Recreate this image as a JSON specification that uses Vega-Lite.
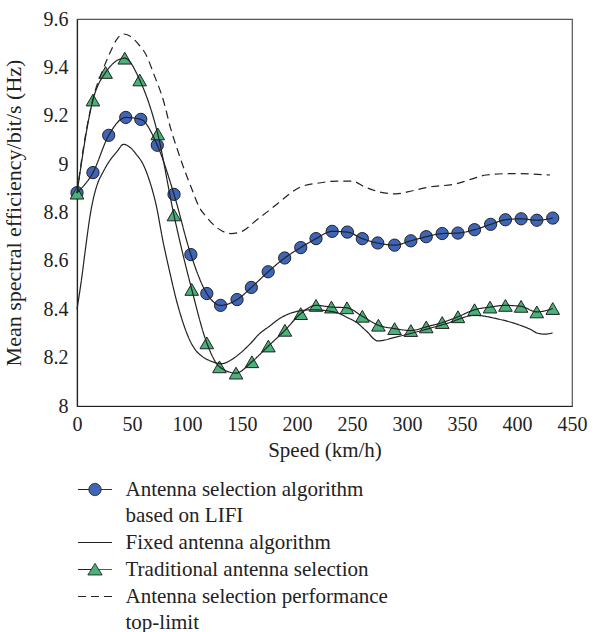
{
  "$schema": "https://vega.github.io/schema/vega-lite/v6.json",
  "width": 495,
  "height": 387,
  "autosize": {"type": "none"},
  "padding": {"left": 77, "top": 19, "right": 26, "bottom": 226},
  "background": "white",
  "config": {
    "font": "Liberation Serif",
    "view": {"stroke": "#555", "strokeWidth": 1.2},
    "axis": {"labelFont": "Liberation Serif", "titleFont": "Liberation Serif", "labelFontSize": 20, "titleFontSize": 21, "titleFontWeight": "normal", "labelColor": "#222", "titleColor": "#222", "ticks": false, "grid": false, "domainColor": "#222", "domainWidth": 1.2}
  },
  "data": {"values": [
    {"s": "Antenna selection algorithm based on LIFI", "x": 0, "y": 8.882},
    {"s": "Antenna selection algorithm based on LIFI", "x": 14.5, "y": 8.965},
    {"s": "Antenna selection algorithm based on LIFI", "x": 28.8, "y": 9.119},
    {"s": "Antenna selection algorithm based on LIFI", "x": 44.3, "y": 9.193},
    {"s": "Antenna selection algorithm based on LIFI", "x": 58, "y": 9.185},
    {"s": "Antenna selection algorithm based on LIFI", "x": 73, "y": 9.078},
    {"s": "Antenna selection algorithm based on LIFI", "x": 88.2, "y": 8.875},
    {"s": "Antenna selection algorithm based on LIFI", "x": 103.5, "y": 8.626},
    {"s": "Antenna selection algorithm based on LIFI", "x": 118, "y": 8.465},
    {"s": "Antenna selection algorithm based on LIFI", "x": 130.5, "y": 8.416},
    {"s": "Antenna selection algorithm based on LIFI", "x": 145.5, "y": 8.44},
    {"s": "Antenna selection algorithm based on LIFI", "x": 158.5, "y": 8.49},
    {"s": "Antenna selection algorithm based on LIFI", "x": 173.8, "y": 8.555},
    {"s": "Antenna selection algorithm based on LIFI", "x": 188.8, "y": 8.612},
    {"s": "Antenna selection algorithm based on LIFI", "x": 203.4, "y": 8.655},
    {"s": "Antenna selection algorithm based on LIFI", "x": 217.3, "y": 8.692},
    {"s": "Antenna selection algorithm based on LIFI", "x": 232, "y": 8.722},
    {"s": "Antenna selection algorithm based on LIFI", "x": 245.8, "y": 8.719},
    {"s": "Antenna selection algorithm based on LIFI", "x": 259.4, "y": 8.692},
    {"s": "Antenna selection algorithm based on LIFI", "x": 273.4, "y": 8.674},
    {"s": "Antenna selection algorithm based on LIFI", "x": 288.7, "y": 8.665},
    {"s": "Antenna selection algorithm based on LIFI", "x": 303.5, "y": 8.683},
    {"s": "Antenna selection algorithm based on LIFI", "x": 317.5, "y": 8.7},
    {"s": "Antenna selection algorithm based on LIFI", "x": 332, "y": 8.713},
    {"s": "Antenna selection algorithm based on LIFI", "x": 346.3, "y": 8.715},
    {"s": "Antenna selection algorithm based on LIFI", "x": 361.4, "y": 8.729},
    {"s": "Antenna selection algorithm based on LIFI", "x": 376, "y": 8.751},
    {"s": "Antenna selection algorithm based on LIFI", "x": 389.5, "y": 8.77},
    {"s": "Antenna selection algorithm based on LIFI", "x": 403.8, "y": 8.774},
    {"s": "Antenna selection algorithm based on LIFI", "x": 418, "y": 8.768},
    {"s": "Antenna selection algorithm based on LIFI", "x": 432.5, "y": 8.777},
    {"s": "Traditional antenna selection", "x": 0, "y": 8.88},
    {"s": "Traditional antenna selection", "x": 14.5, "y": 9.265},
    {"s": "Traditional antenna selection", "x": 26, "y": 9.379},
    {"s": "Traditional antenna selection", "x": 43.4, "y": 9.438},
    {"s": "Traditional antenna selection", "x": 57, "y": 9.348},
    {"s": "Traditional antenna selection", "x": 73.4, "y": 9.125},
    {"s": "Traditional antenna selection", "x": 88.1, "y": 8.79},
    {"s": "Traditional antenna selection", "x": 104.3, "y": 8.482},
    {"s": "Traditional antenna selection", "x": 118, "y": 8.261},
    {"s": "Traditional antenna selection", "x": 129.5, "y": 8.162},
    {"s": "Traditional antenna selection", "x": 144.6, "y": 8.136},
    {"s": "Traditional antenna selection", "x": 159, "y": 8.183},
    {"s": "Traditional antenna selection", "x": 174, "y": 8.248},
    {"s": "Traditional antenna selection", "x": 189, "y": 8.313},
    {"s": "Traditional antenna selection", "x": 203.4, "y": 8.382},
    {"s": "Traditional antenna selection", "x": 217.3, "y": 8.416},
    {"s": "Traditional antenna selection", "x": 231.3, "y": 8.409},
    {"s": "Traditional antenna selection", "x": 245.4, "y": 8.406},
    {"s": "Traditional antenna selection", "x": 259.4, "y": 8.371},
    {"s": "Traditional antenna selection", "x": 274, "y": 8.334},
    {"s": "Traditional antenna selection", "x": 288.7, "y": 8.32},
    {"s": "Traditional antenna selection", "x": 303.5, "y": 8.312},
    {"s": "Traditional antenna selection", "x": 317.5, "y": 8.327},
    {"s": "Traditional antenna selection", "x": 332, "y": 8.345},
    {"s": "Traditional antenna selection", "x": 346.3, "y": 8.369},
    {"s": "Traditional antenna selection", "x": 361.4, "y": 8.398},
    {"s": "Traditional antenna selection", "x": 375.5, "y": 8.409},
    {"s": "Traditional antenna selection", "x": 389.5, "y": 8.416},
    {"s": "Traditional antenna selection", "x": 403.7, "y": 8.412},
    {"s": "Traditional antenna selection", "x": 418, "y": 8.389},
    {"s": "Traditional antenna selection", "x": 432.5, "y": 8.403},
    {"s": "Fixed antenna algorithm", "x": 0, "y": 8.4},
    {"s": "Fixed antenna algorithm", "x": 4, "y": 8.52},
    {"s": "Fixed antenna algorithm", "x": 8, "y": 8.66},
    {"s": "Fixed antenna algorithm", "x": 12, "y": 8.79},
    {"s": "Fixed antenna algorithm", "x": 15, "y": 8.86},
    {"s": "Fixed antenna algorithm", "x": 18, "y": 8.91},
    {"s": "Fixed antenna algorithm", "x": 24, "y": 8.97},
    {"s": "Fixed antenna algorithm", "x": 30, "y": 9.016},
    {"s": "Fixed antenna algorithm", "x": 36, "y": 9.05},
    {"s": "Fixed antenna algorithm", "x": 42.5, "y": 9.082},
    {"s": "Fixed antenna algorithm", "x": 48, "y": 9.07},
    {"s": "Fixed antenna algorithm", "x": 54, "y": 9.04},
    {"s": "Fixed antenna algorithm", "x": 60, "y": 9.0},
    {"s": "Fixed antenna algorithm", "x": 66, "y": 8.93},
    {"s": "Fixed antenna algorithm", "x": 72, "y": 8.83},
    {"s": "Fixed antenna algorithm", "x": 78, "y": 8.685},
    {"s": "Fixed antenna algorithm", "x": 84, "y": 8.56},
    {"s": "Fixed antenna algorithm", "x": 90.4, "y": 8.437},
    {"s": "Fixed antenna algorithm", "x": 96, "y": 8.35},
    {"s": "Fixed antenna algorithm", "x": 102.5, "y": 8.272},
    {"s": "Fixed antenna algorithm", "x": 108, "y": 8.23},
    {"s": "Fixed antenna algorithm", "x": 114.4, "y": 8.203},
    {"s": "Fixed antenna algorithm", "x": 122, "y": 8.185},
    {"s": "Fixed antenna algorithm", "x": 131.3, "y": 8.175},
    {"s": "Fixed antenna algorithm", "x": 140, "y": 8.19},
    {"s": "Fixed antenna algorithm", "x": 148, "y": 8.217},
    {"s": "Fixed antenna algorithm", "x": 157, "y": 8.255},
    {"s": "Fixed antenna algorithm", "x": 166, "y": 8.299},
    {"s": "Fixed antenna algorithm", "x": 175, "y": 8.33},
    {"s": "Fixed antenna algorithm", "x": 184, "y": 8.361},
    {"s": "Fixed antenna algorithm", "x": 195, "y": 8.385},
    {"s": "Fixed antenna algorithm", "x": 205, "y": 8.395},
    {"s": "Fixed antenna algorithm", "x": 214, "y": 8.398},
    {"s": "Fixed antenna algorithm", "x": 225, "y": 8.395},
    {"s": "Fixed antenna algorithm", "x": 238.6, "y": 8.382},
    {"s": "Fixed antenna algorithm", "x": 246, "y": 8.365},
    {"s": "Fixed antenna algorithm", "x": 253.8, "y": 8.347},
    {"s": "Fixed antenna algorithm", "x": 263, "y": 8.31},
    {"s": "Fixed antenna algorithm", "x": 273.5, "y": 8.269},
    {"s": "Fixed antenna algorithm", "x": 290, "y": 8.285},
    {"s": "Fixed antenna algorithm", "x": 308.5, "y": 8.306},
    {"s": "Fixed antenna algorithm", "x": 336, "y": 8.341},
    {"s": "Fixed antenna algorithm", "x": 361.8, "y": 8.375},
    {"s": "Fixed antenna algorithm", "x": 381.5, "y": 8.361},
    {"s": "Fixed antenna algorithm", "x": 402.7, "y": 8.334},
    {"s": "Fixed antenna algorithm", "x": 413, "y": 8.315},
    {"s": "Fixed antenna algorithm", "x": 418, "y": 8.302},
    {"s": "Fixed antenna algorithm", "x": 425, "y": 8.297},
    {"s": "Fixed antenna algorithm", "x": 432.4, "y": 8.302},
    {"s": "Antenna selection performance top-limit", "x": 0, "y": 8.88},
    {"s": "Antenna selection performance top-limit", "x": 7, "y": 9.1},
    {"s": "Antenna selection performance top-limit", "x": 14.5, "y": 9.27},
    {"s": "Antenna selection performance top-limit", "x": 23.5, "y": 9.39},
    {"s": "Antenna selection performance top-limit", "x": 30, "y": 9.46},
    {"s": "Antenna selection performance top-limit", "x": 36, "y": 9.515},
    {"s": "Antenna selection performance top-limit", "x": 42, "y": 9.538},
    {"s": "Antenna selection performance top-limit", "x": 48, "y": 9.53},
    {"s": "Antenna selection performance top-limit", "x": 55, "y": 9.5},
    {"s": "Antenna selection performance top-limit", "x": 63, "y": 9.45},
    {"s": "Antenna selection performance top-limit", "x": 70, "y": 9.37},
    {"s": "Antenna selection performance top-limit", "x": 78.5, "y": 9.264},
    {"s": "Antenna selection performance top-limit", "x": 85, "y": 9.15},
    {"s": "Antenna selection performance top-limit", "x": 92, "y": 9.05},
    {"s": "Antenna selection performance top-limit", "x": 99, "y": 8.96},
    {"s": "Antenna selection performance top-limit", "x": 105, "y": 8.89},
    {"s": "Antenna selection performance top-limit", "x": 111, "y": 8.823},
    {"s": "Antenna selection performance top-limit", "x": 118, "y": 8.78},
    {"s": "Antenna selection performance top-limit", "x": 126, "y": 8.742},
    {"s": "Antenna selection performance top-limit", "x": 140, "y": 8.713},
    {"s": "Antenna selection performance top-limit", "x": 150, "y": 8.722},
    {"s": "Antenna selection performance top-limit", "x": 163, "y": 8.768},
    {"s": "Antenna selection performance top-limit", "x": 175, "y": 8.81},
    {"s": "Antenna selection performance top-limit", "x": 184, "y": 8.843},
    {"s": "Antenna selection performance top-limit", "x": 203, "y": 8.905},
    {"s": "Antenna selection performance top-limit", "x": 220, "y": 8.922},
    {"s": "Antenna selection performance top-limit", "x": 237, "y": 8.93},
    {"s": "Antenna selection performance top-limit", "x": 250, "y": 8.93},
    {"s": "Antenna selection performance top-limit", "x": 262, "y": 8.905},
    {"s": "Antenna selection performance top-limit", "x": 275, "y": 8.885},
    {"s": "Antenna selection performance top-limit", "x": 290, "y": 8.877},
    {"s": "Antenna selection performance top-limit", "x": 305, "y": 8.89},
    {"s": "Antenna selection performance top-limit", "x": 320, "y": 8.905},
    {"s": "Antenna selection performance top-limit", "x": 345, "y": 8.919},
    {"s": "Antenna selection performance top-limit", "x": 360, "y": 8.94},
    {"s": "Antenna selection performance top-limit", "x": 372, "y": 8.955},
    {"s": "Antenna selection performance top-limit", "x": 396, "y": 8.961},
    {"s": "Antenna selection performance top-limit", "x": 430, "y": 8.955}
  ]},
  "layer": [
    {
      "transform": [{"filter": {"field": "s", "oneOf": ["Antenna selection algorithm based on LIFI", "Traditional antenna selection"]}}],
      "mark": {"type": "point", "filled": true, "stroke": "#222", "strokeWidth": 1, "opacity": 1},
      "encoding": {
        "x": {"field": "x", "type": "quantitative"},
        "y": {"field": "y", "type": "quantitative"},
        "fill": {"field": "s", "type": "nominal", "legend": null, "scale": {"domain": ["Antenna selection algorithm based on LIFI", "Traditional antenna selection"], "range": ["#3E65B7", "#48B279"]}},
        "shape": {"field": "s", "type": "nominal", "legend": null, "scale": {"domain": ["Antenna selection algorithm based on LIFI", "Traditional antenna selection"], "range": ["circle", "triangle-up"]}},
        "size": {"field": "s", "type": "nominal", "legend": null, "scale": {"domain": ["Antenna selection algorithm based on LIFI", "Traditional antenna selection"], "range": [150, 185]}}
      }
    },
    {
      "mark": {"type": "line", "interpolate": "monotone", "color": "#222", "strokeWidth": 1.2},
      "encoding": {
        "x": {"field": "x", "type": "quantitative", "title": "Speed (km/h)", "scale": {"domain": [0, 450], "nice": false}, "axis": {"values": [0, 50, 100, 150, 200, 250, 300, 350, 400, 450], "labelPadding": 8, "titlePadding": 5, "labelFlush": false}},
        "y": {"field": "y", "type": "quantitative", "title": "Mean spectral efficiency/bit/s (Hz)", "scale": {"domain": [8, 9.6], "nice": false, "zero": false}, "axis": {"values": [8, 8.2, 8.4, 8.6, 8.8, 9, 9.2, 9.4, 9.6], "format": "~g", "labelPadding": 9, "titlePadding": 18, "titleFontSize": 22}},
        "strokeDash": {
          "field": "s", "type": "nominal",
          "scale": {"domain": ["Antenna selection algorithm based on LIFI", "Fixed antenna algorithm", "Traditional antenna selection", "Antenna selection performance top-limit"], "range": [[1, 0], [1, 0], [1, 0], [8, 5]]},
          "legend": {
            "orient": "none", "legendX": 7.5, "legendY": 460, "title": null, "direction": "vertical", "padding": 0,
            "symbolSize": 100, "symbolStrokeWidth": 1, "symbolStrokeColor": "#222", "labelOffset": 20,
            "labelFont": "Liberation Serif", "labelFontSize": 21, "labelColor": "#222", "labelLimit": 500, "rowPadding": 5,
            "labelExpr": "datum.value === 'Antenna selection algorithm based on LIFI' ? ['Antenna selection algorithm', 'based on LIFI'] : datum.value === 'Antenna selection performance top-limit' ? ['Antenna selection performance', 'top-limit'] : datum.label",
            "encode": {
              "labels": {"update": {"lineHeight": {"value": 26}}},
              "symbols": {"update": {
                "shape": {"signal": "datum.value === 'Antenna selection algorithm based on LIFI' ? 'M-3.4,0H-1.22M1.22,0H3.4M-1.22,0A1.22,1.22 0 1,0 1.22,0A1.22,1.22 0 1,0 -1.22,0Z' : datum.value === 'Traditional antenna selection' ? 'M-3.4,0H-0.72M0.72,0H3.4M0,-1.22L1.43,1.09L-1.43,1.09Z' : 'M-3.4,0H3.4'"},
                "fill": {"signal": "datum.value === 'Antenna selection algorithm based on LIFI' ? '#3E65B7' : datum.value === 'Traditional antenna selection' ? '#48B279' : 'transparent'"},
                "stroke": {"value": "#222"},
                "strokeWidth": {"value": 1},
                "opacity": {"value": 1}
              }}
            }
          }
        }
      }
    }
  ]
}
